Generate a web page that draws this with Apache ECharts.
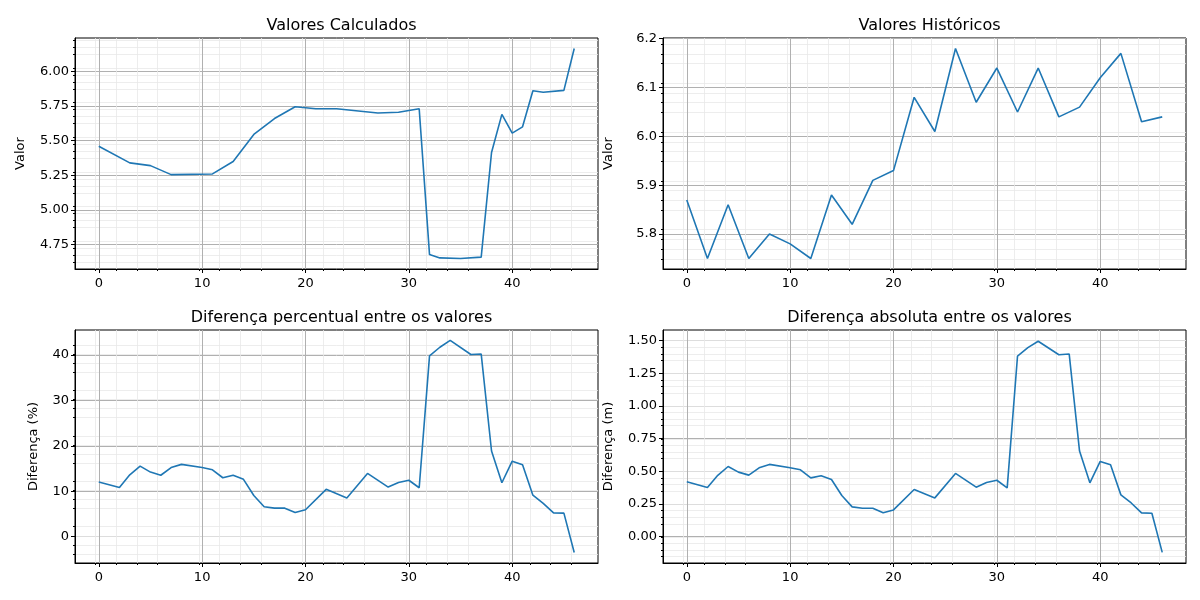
<!DOCTYPE html>
<html>
<head>
<meta charset="utf-8">
<script src="https://cdn.jsdelivr.net/npm/echarts@6/dist/echarts.min.js"></script>
<style>
  html, body { margin: 0; padding: 0; background: #fff; }
  #chart { width: 1200px; height: 600px; }
</style>
</head>
<body>
<div id="chart"></div>
<script>
// Valores calculados (x irregular)
var calcX = [0, 3, 5, 7, 11, 13, 15, 17, 19, 21, 23, 27, 29, 31, 32, 33, 35, 37, 38, 39, 40, 41, 42, 43, 45, 46];
var calcY = [5.46, 5.34, 5.32, 5.255, 5.26, 5.35, 5.545, 5.66, 5.745, 5.73, 5.73, 5.70, 5.705, 5.73,
    4.678, 4.654, 4.65, 4.66, 5.415, 5.69, 5.555, 5.60, 5.86, 5.85, 5.863, 6.165];

// Valores históricos
var histX = [0, 2, 4, 6, 8, 10, 12, 14, 16, 18, 20, 22, 24, 26, 28, 30, 32, 34, 36, 38, 40, 42, 44, 46];
var histY = [5.87, 5.75, 5.86, 5.75, 5.80, 5.78, 5.75, 5.88, 5.82, 5.91, 5.93, 6.08, 6.01, 6.18,
    6.07, 6.14, 6.05, 6.14, 6.04, 6.06, 6.12, 6.17, 6.03, 6.04];

// Diferenças
var diffX = [0, 2, 3, 4, 5, 6, 7, 8, 10, 11, 12, 13, 14, 15, 16, 17, 18, 19, 20, 22, 24, 26, 28, 29,
    30, 31, 32, 33, 34, 36, 37, 38, 39, 40, 41, 42, 43, 44, 45, 46];
var pctY = [12.0, 10.8, 13.6, 15.5, 14.2, 13.5, 15.2, 15.9, 15.2, 14.7, 12.95, 13.5, 12.6, 9.05,
    6.55, 6.25, 6.25, 5.3, 5.9, 10.4, 8.5, 13.9, 10.9, 11.9, 12.4, 10.75, 39.8, 41.7, 43.2,
    40.1, 40.2, 18.85, 11.85, 16.6, 15.8, 9.1, 7.3, 5.2, 5.15, -3.5];
var absY = [0.42, 0.376, 0.47, 0.537, 0.494, 0.471, 0.527, 0.553, 0.527, 0.512, 0.45, 0.466, 0.438,
    0.315, 0.228, 0.218, 0.218, 0.184, 0.205, 0.361, 0.297, 0.484, 0.379, 0.415, 0.432, 0.374,
    1.382, 1.446, 1.495, 1.392, 1.397, 0.655, 0.412, 0.576, 0.55, 0.32, 0.258, 0.182, 0.179, -0.12];

var titles = ["Valores Calculados", "Valores Históricos",
    "Diferença percentual entre os valores", "Diferença absoluta entre os valores"];
var yNames = ["Valor", "Valor", "Diferença (%)", "Diferença (m)"];
var nameGaps = [48, 48, 35, 48];

var panels = [
    { x: calcX, y: calcY, min: 4.574, max: 6.241, interval: 0.25, dec: 2 },
    { x: histX, y: histY, min: 5.7285, max: 6.2015, interval: 0.1, dec: 1 },
    { x: diffX, y: pctY, min: -5.83, max: 45.5, interval: 10, dec: 0 },
    { x: diffX, y: absY, min: -0.201, max: 1.581, interval: 0.25, dec: 2 },
];

var boxes = [
    { left: 75, top: 38, width: 523, height: 231 },
    { left: 663, top: 38, width: 523, height: 231 },
    { left: 75, top: 330, width: 523, height: 233 },
    { left: 663, top: 330, width: 523, height: 233 },
];

var font = "DejaVu Sans";
var grids = [], xAxes = [], yAxes = [], series = [], title = [];

function ticksFor(p) {
    var out = [];
    var start = Math.ceil(p.min / p.interval - 1e-9);
    for (var k = start; k * p.interval <= p.max + 1e-9; k++) {
        out.push(+(k * p.interval).toFixed(4));
    }
    return out;
}

panels.forEach(function (p, i) {
    var b = boxes[i];
    grids.push({
        left: b.left, top: b.top, width: b.width, height: b.height,
        show: true, borderColor: "#000", borderWidth: 1, backgroundColor: "transparent",
    });
    title.push({
        text: titles[i],
        left: b.left + b.width / 2, textAlign: "center",
        top: b.top - 25,
        textStyle: { fontFamily: font, fontSize: 16, fontWeight: "normal", color: "#000" },
    });
    xAxes.push({
        type: "value", gridIndex: i, min: -2.3, max: 48.3, interval: 10,
        axisLine: { show: true, onZero: false, lineStyle: { color: "#000" } },
        axisTick: { show: true, length: 4, lineStyle: { color: "#000" }, customValues: [0, 10, 20, 30, 40] },
        minorTick: { show: true, splitNumber: 5, length: 2, lineStyle: { color: "#000" } },
        axisLabel: { fontFamily: font, fontSize: 13, color: "#000", margin: 8, customValues: [0, 10, 20, 30, 40] },
        splitLine: { show: true, lineStyle: { color: "#b0b0b0", width: 1 } },
        minorSplitLine: { show: true, lineStyle: { color: "#e8e8e8", width: 0.8 } },
    });
    var yt = ticksFor(p);
    yAxes.push({
        type: "value", gridIndex: i, min: p.min, max: p.max, interval: p.interval,
        name: yNames[i], nameLocation: "middle", nameGap: nameGaps[i],
        nameTextStyle: { fontFamily: font, fontSize: 13, color: "#000" },
        axisLine: { show: true, onZero: false, lineStyle: { color: "#000" } },
        axisTick: { show: true, length: 4, lineStyle: { color: "#000" }, customValues: yt },
        minorTick: { show: true, splitNumber: 5, length: 2, lineStyle: { color: "#000" } },
        axisLabel: {
            fontFamily: font, fontSize: 13, color: "#000", margin: 6, customValues: yt,
            formatter: function (v) { return v.toFixed(p.dec); },
        },
        splitLine: { show: true, lineStyle: { color: "#b0b0b0", width: 1 } },
        minorSplitLine: { show: true, lineStyle: { color: "#e8e8e8", width: 0.8 } },
    });
    series.push({
        type: "line", xAxisIndex: i, yAxisIndex: i,
        data: p.x.map(function (x, k) { return [x, p.y[k]]; }),
        showSymbol: false, animation: false,
        lineStyle: { color: "#1f77b4", width: 1.6 },
    });
});

var chart = echarts.init(document.getElementById("chart"));
chart.setOption({
    animation: false,
    title: title,
    grid: grids,
    xAxis: xAxes,
    yAxis: yAxes,
    series: series,
});
</script>
</body>
</html>
